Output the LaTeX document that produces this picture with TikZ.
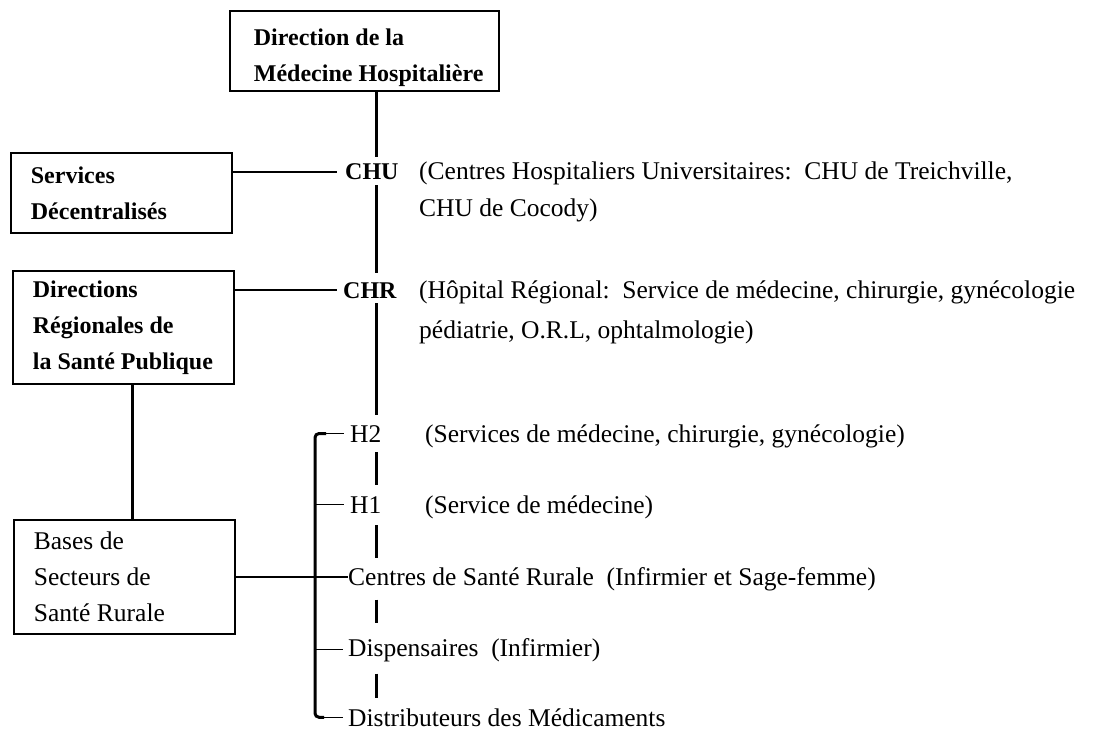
\documentclass[tikz,border=0pt]{standalone}
\usepackage{fontspec}
\setmainfont{Liberation Serif}
\begin{document}
\begin{tikzpicture}[x=1pt,y=-1pt,
  box/.style={draw,line width=1.8pt,rectangle,inner xsep=20pt,inner ysep=0pt,
    align=left,anchor=north west,
    execute at begin node={\spaceskip=0pt\xspaceskip=0pt}},
  lbl/.style={inner sep=0pt,anchor=base west},
  bf/.style={font=\fontsize{24}{36}\selectfont\bfseries},
  rm/.style={font=\fontsize{25.5}{36}\selectfont},
  trunk/.style={line width=3pt},
  link/.style={line width=1.5pt},
  tick/.style={line width=1.2pt},
]
\useasboundingbox[fill=white] (0,0) rectangle (1096,733);

% x positions of the vertical lines
\coordinate (tx) at (376,0);
\coordinate (vx) at (132,0);
\coordinate (bx) at (315,0);

% boxes
\node[box,bf,inner xsep=24pt,text width=221pt,minimum height=80pt] (dmh) at (229,10)
  {\rule{0pt}{30pt}\mbox{Direction de la}\\\mbox{Médecine Hospitalière}};
\node[box,bf,text width=181pt,minimum height=80pt] (serv) at (10,152)
  {\mbox{Services}\\\mbox{Décentralisés}};
\node[box,bf,text width=181pt,minimum height=113pt] (dir) at (12,270)
  {\mbox{Directions}\\\mbox{Régionales de}\\\mbox{la Santé Publique}};
\node[box,rm,text width=181pt,minimum height=114pt] (bases) at (13,519)
  {\mbox{Bases de}\\\mbox{Secteurs de}\\\mbox{Santé Rurale}};

% hospital levels
\node[lbl,bf] (chu) at (345,180) {CHU};
\node[lbl,rm] (chuA) at (419,180) {(Centres Hospitaliers Universitaires:\ \ CHU de Treichville,};
\node[lbl,rm] (chuB) at (419,217) {CHU de Cocody)};
\node[lbl,bf] (chr) at (343,298) {CHR};
\node[lbl,rm] (chrA) at (419,298) {(Hôpital Régional:\ \ Service de médecine, chirurgie, gynécologie};
\node[lbl,rm] (chrB) at (419,338) {pédiatrie, O.R.L, ophtalmologie)};

% rural levels
\node[lbl,rm] (h2) at (350,442) {H2};
\node[lbl,rm] (h2d) at (425,442) {(Services de médecine, chirurgie, gynécologie)};
\node[lbl,rm] (h1) at (350,513) {H1};
\node[lbl,rm] (h1d) at (425,513) {(Service de médecine)};
\node[lbl,rm] (cen) at (348,585) {Centres de Santé Rurale\ \ (Infirmier et Sage-femme)};
\node[lbl,rm] (disp) at (348,656) {Dispensaires\ \ (Infirmier)};
\node[lbl,rm] (dist) at (348,726) {Distributeurs des Médicaments};

% main hierarchy line, broken at each label
\draw[trunk] (dmh.south -| tx) -- ([yshift=7pt]chu.north -| tx);
\draw[trunk] ([yshift=-5pt]chu.south -| tx) -- ([yshift=9pt]chr.north -| tx);
\draw[trunk] ([yshift=-5pt]chr.south -| tx) -- ([yshift=10pt]h2.north -| tx);
\draw[trunk] ([yshift=-10pt]h2.south -| tx) -- ([yshift=11pt]h1.north -| tx);
\draw[trunk] ([yshift=-12pt]h1.south -| tx) -- ([yshift=9pt]cen.north -| tx);
\draw[trunk] ([yshift=-9pt]cen.south -| tx) -- ([yshift=15pt]disp.north -| tx);
\draw[trunk] ([yshift=-12pt]disp.south -| tx) -- ([yshift=10pt]dist.north -| tx);

% links from the administrative boxes
\draw[link] (chu.west -| serv.east) -- ([xshift=-8pt]chu.west);
\draw[link] (chr.west -| dir.east) -- ([xshift=-6pt]chr.west);
\draw[trunk] (dir.south -| vx) -- (bases.north -| vx);
\draw[link] (bases.east) -- (bases.east -| cen.west);

% bracket of the rural levels
\draw[trunk,rounded corners=4pt] ([xshift=-24pt]h2.west) -- (bx |- h2.west)
  -- (bx |- dist.west) -- ([xshift=-24pt]dist.west);
\draw[tick] ([xshift=-24pt]h2.west) -- ([xshift=-6pt]h2.west);
\draw[tick] (bx |- h1.west) -- ([xshift=-6pt]h1.west);
\draw[tick] (bx |- disp.west) -- ([xshift=-5pt]disp.west);
\draw[tick] ([xshift=-24pt]dist.west) -- ([xshift=-5pt]dist.west);
\end{tikzpicture}
\end{document}
